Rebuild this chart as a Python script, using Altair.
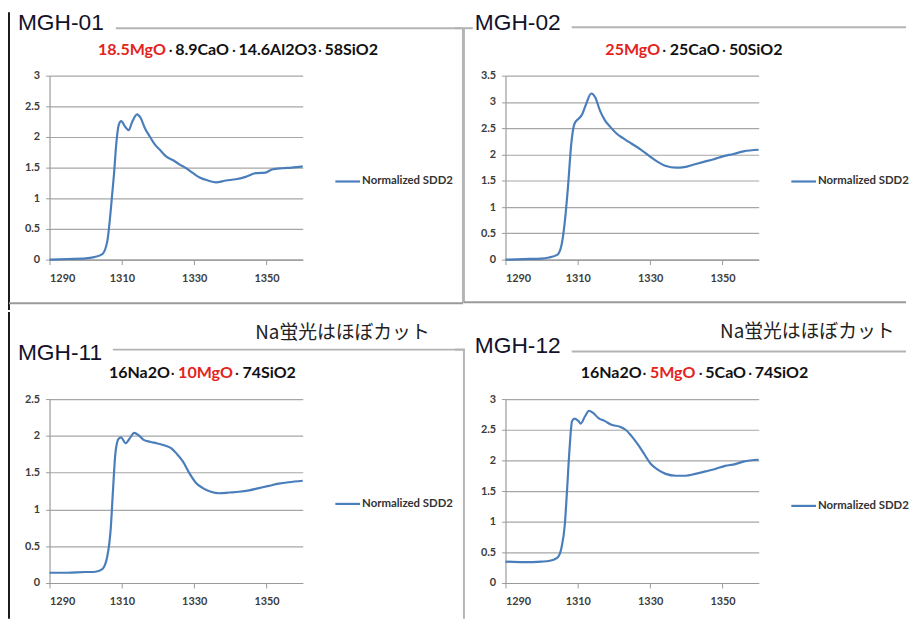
import altair as alt
import numpy as np
import pandas as pd

# ---------------- data ----------------
X_DOMAIN = [1290, 1360]
X_TICKS = [1290, 1310, 1330, 1350]
SERIES_NAME = "Normalized SDD2"

e01 = [1290, 1295, 1300, 1302.3, 1304.6, 1306.0, 1306.9, 1307.8, 1308.5, 1309.1,
       1309.8, 1311.0, 1311.9, 1312.8, 1314.2, 1315.1, 1316.4, 1317.8, 1319.2, 1320.5,
       1322.3, 1324.2, 1326.0, 1327.8, 1329.7, 1331.5, 1333.8, 1336.0, 1338.8, 1341.5,
       1344.2, 1347.0, 1349.7, 1351.5, 1354.3, 1357.0, 1360]
v01 = [0.00, 0.01, 0.02, 0.04, 0.09, 0.31, 0.79, 1.38, 1.92, 2.19,
       2.26, 2.16, 2.11, 2.24, 2.37, 2.32, 2.14, 2.00, 1.87, 1.79,
       1.68, 1.62, 1.55, 1.49, 1.41, 1.34, 1.29, 1.26, 1.29, 1.31,
       1.35, 1.41, 1.42, 1.47, 1.49, 1.50, 1.52]

e02 = [1290, 1295, 1300, 1302.0, 1304.3, 1305.5, 1306.4, 1307.3, 1308.2, 1309.1,
       1310.2, 1311.1, 1312.3, 1313.7, 1314.8, 1316.1, 1317.5, 1318.9, 1320.7, 1322.5,
       1324.8, 1327.5, 1329.8, 1332.1, 1334.4, 1337.1, 1339.4, 1342.1, 1344.8, 1347.6,
       1350.3, 1353.0, 1355.8, 1360]
v02 = [0.00, 0.01, 0.02, 0.04, 0.09, 0.28, 0.72, 1.40, 2.21, 2.59,
       2.68, 2.75, 2.96, 3.16, 3.09, 2.84, 2.65, 2.53, 2.40, 2.31,
       2.21, 2.09, 1.97, 1.86, 1.78, 1.75, 1.76, 1.81, 1.86, 1.91,
       1.97, 2.01, 2.06, 2.09]

e11 = [1290, 1295, 1300, 1302.3, 1304.6, 1306.0, 1306.9, 1307.6, 1308.2, 1309.1,
       1309.8, 1311.0, 1312.1, 1313.4, 1314.6, 1315.9, 1317.8, 1319.6, 1321.9, 1323.7,
       1325.1, 1326.9, 1328.7, 1330.5, 1332.4, 1334.6, 1336.9, 1339.7, 1342.4, 1345.2,
       1347.9, 1350.6, 1353.4, 1356.1, 1360]
v11 = [0.14, 0.14, 0.15, 0.15, 0.19, 0.37, 0.73, 1.31, 1.76, 1.96,
       1.98, 1.90, 1.96, 2.04, 2.01, 1.95, 1.92, 1.90, 1.87, 1.83,
       1.76, 1.65, 1.49, 1.36, 1.29, 1.24, 1.22, 1.23, 1.24, 1.26,
       1.29, 1.32, 1.35, 1.37, 1.39]

e12 = [1290, 1295, 1300, 1302.0, 1304.3, 1305.5, 1306.4, 1307.0, 1307.7, 1308.4,
       1309.1, 1310.2, 1310.8, 1312.0, 1313.1, 1314.3, 1315.7, 1317.5, 1319.3, 1321.6,
       1323.2, 1324.8, 1326.6, 1328.4, 1330.2, 1332.1, 1334.3, 1337.1, 1339.8, 1342.5,
       1345.3, 1348.0, 1350.7, 1353.5, 1355.8, 1360]
v12 = [0.35, 0.34, 0.35, 0.36, 0.41, 0.58, 0.95, 1.49, 2.18, 2.64,
       2.68, 2.64, 2.60, 2.72, 2.81, 2.77, 2.69, 2.64, 2.58, 2.55,
       2.50, 2.40, 2.26, 2.10, 1.94, 1.85, 1.78, 1.75, 1.75, 1.78,
       1.82, 1.86, 1.91, 1.94, 1.98, 2.01]

Y_MAX = {"MGH-01": 3.0, "MGH-02": 3.5, "MGH-11": 2.5, "MGH-12": 3.0}
NOTE = "Na蛍光はほぼカット"
DOT = "・"
# composition subtitles: components and which one is highlighted (MgO)
comp01 = ["18.5MgO", "8.9CaO", "14.6Al2O3", "58SiO2"]
comp02 = ["25MgO", "25CaO", "50SiO2"]
comp11 = ["16Na2O", "10MgO", "74SiO2"]
comp12 = ["16Na2O", "5MgO", "5CaO", "74SiO2"]

# ---------------- styling / layout ----------------
BLUE = "#4a7ebb"
RED = "#e3231c"
INK = "#111111"
FRAME = "#b4b4b4"
W, H = 256, 186
ONE = pd.DataFrame({"k": [0]})


def rule(x1, x2, y1, y2, color=FRAME, w=2):
    return alt.Chart(ONE).mark_rule(color=color, strokeWidth=w).encode(
        x=alt.value(x1), x2=alt.value(x2), y=alt.value(y1), y2=alt.value(y2))


def label(txt, x, y, **kw):
    return alt.Chart(ONE).mark_text(text=txt, **kw).encode(x=alt.value(x), y=alt.value(y))


def panel(name, energy, values, title_xy, comps, word_x, dot_x, deco, note=None, legend_y=107):
    df = pd.DataFrame({"energy": energy, "value": values, "series": SERIES_NAME})
    ymax = Y_MAX[name]
    yticks = [round(v, 1) for v in np.arange(0, ymax + 0.01, 0.5)]
    line = alt.Chart(df).mark_line(color=BLUE, strokeWidth=2.2, interpolate="monotone").encode(
        x=alt.X("energy:Q",
                scale=alt.Scale(domain=X_DOMAIN, nice=False, zero=False),
                axis=alt.Axis(values=X_TICKS, format="d", title=None, grid=False,
                              tickSize=5, labelPadding=8)),
        y=alt.Y("value:Q",
                scale=alt.Scale(domain=[0, ymax], nice=False),
                axis=alt.Axis(values=yticks, format="~g", title=None, grid=True,
                              tickSize=4, labelPadding=6)),
    )
    layers = [line]
    layers += [rule(*r) for r in deco]
    layers.append(label(name, title_xy[0], title_xy[1], font="Liberation Sans", fontSize=23,
                        color="#12122a", align="left", baseline="alphabetic"))
    for comp, x in zip(comps, word_x):
        layers.append(label(comp, x, -26, font="Lato", fontSize=16.2, fontWeight="bold",
                            color=RED if "MgO" in comp else INK, align="left", baseline="middle"))
    for x in dot_x:
        layers.append(label(DOT, x, -25, font="Noto Sans CJK JP", fontSize=9, fontWeight="bold",
                            color=INK, align="center", baseline="middle"))
    if note is not None:
        layers.append(label(NOTE, note[0], note[1], font="Noto Sans CJK JP", fontSize=19,
                            color="#222222", align="left", baseline="middle"))
    layers.append(rule(289, 314, legend_y, legend_y, BLUE, 2.2))
    layers.append(label(SERIES_NAME, 316, legend_y, font="Lato", fontSize=11.5, fontWeight="bold",
                        color="#333333", align="left", baseline="middle"))
    return alt.layer(*layers).properties(width=W, height=H)


p1 = panel(
    "MGH-01", e01, v01, (-32, -46), comp01, [49, 127, 191, 278], [122.5, 186.5, 273.5],
    deco=[(-41, -41, -64, 237, "#1a1a1a", 2),
          (67, 418, -48, -48), (418, 418, -48, 230), (-41, 418, 230, 230, "#9a9a9a", 2)],
)
p2 = panel(
    "MGH-02", e02, v02, (-31, -46), comp02, [101, 166, 226], [160.5, 221],
    deco=[(67, 405, -49, -49), (-51, -33, -48, -48), (-42, -42, -48, 229),
          (-42, 405, 229, 229, "#9a9a9a", 2)],
)
p3 = panel(
    "MGH-11", e11, v11, (-32, -40), comp11, [60, 130, 195], [124.5, 189.5],
    deco=[(-41, -41, -88, 222, "#1a1a1a", 2), (64, 420, -50, -50)],
    note=(208, -67), legend_y=106,
)
p4 = panel(
    "MGH-12", e12, v12, (-31, -47), comp12, [76, 146, 202, 252], [140.5, 197.5, 247.5],
    deco=[(67, 405, -48, -48), (-51, -41, -50, -50), (-42, -42, -50, 222)],
    note=(217, -68), legend_y=108,
)

chart = alt.vconcat(
    alt.hconcat(p1, p2, spacing=205, bounds="flush"),
    alt.hconcat(p3, p4, spacing=205, bounds="flush"),
    spacing=327, bounds="flush",
).properties(padding=0, background="white").configure_view(stroke=None).configure_axis(
    labelFont="Lato", labelFontSize=11, labelFontWeight="bold", labelColor="#3c3c3c",
    domainColor="#9a9a9a", tickColor="#9a9a9a", gridColor="#a6a6a6", gridWidth=1.2,
    domainWidth=1.2,
)

chart.save("out.html", embed_options={"renderer": "svg", "actions": False})
